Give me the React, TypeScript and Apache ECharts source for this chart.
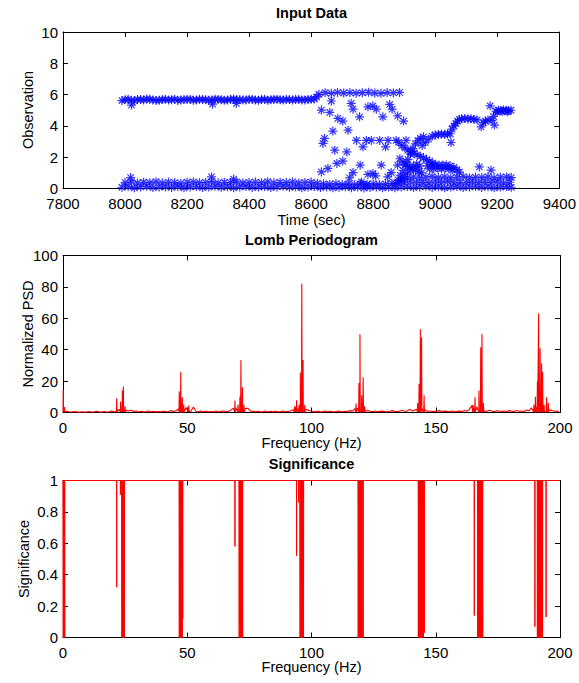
import React, { useEffect, useRef } from "react";
import * as echarts from "echarts";

const FONT = '"Liberation Sans", Arial, Helvetica, sans-serif';

// ---------- Input Data (time in sec, observation) ----------
const upperBandA: [number, number][] = [
  [7990,5.62],[8010,5.70],[8030,5.60],[8050,5.68],[8070,5.72],[8090,5.66],[8110,5.64],[8130,5.70],
  [8150,5.67],[8170,5.63],[8190,5.69],[8210,5.71],[8230,5.66],[8250,5.68],[8270,5.64],[8290,5.70],
  [8310,5.67],[8330,5.65],[8350,5.72],[8370,5.68],[8390,5.66],[8410,5.69],[8430,5.64],[8450,5.70],
  [8470,5.67],[8490,5.71],[8510,5.65],[8530,5.68],[8550,5.70],[8570,5.66],[8590,5.69],[8610,5.72],
];
const upperBandB: [number, number][] = [
  [8000,5.67],[8020,5.64],[8040,5.69],[8060,5.66],[8080,5.70],[8100,5.63],[8120,5.68],[8140,5.66],
  [8160,5.71],[8180,5.65],[8200,5.68],[8220,5.64],[8240,5.70],[8260,5.67],[8280,5.66],[8300,5.69],
  [8320,5.64],[8340,5.70],[8360,5.67],[8380,5.65],[8400,5.71],[8420,5.66],[8440,5.68],[8460,5.64],
  [8480,5.69],[8500,5.67],[8520,5.70],[8540,5.65],[8560,5.68],[8580,5.66],[8600,5.70],[8618,5.85],
];
const upperOutliers: [number, number][] = [[8021,5.33],[8282,5.39],[8359,5.44]];
const topRow: [number, number][] = [
  [8625,6.02],[8645,6.12],[8665,6.08],[8685,6.14],[8705,6.10],[8725,6.13],[8745,6.09],
  [8765,6.12],[8785,6.15],[8805,6.10],[8825,6.08],[8845,6.13],[8865,6.11],[8885,6.14],
];
const lowerBandA: [number, number][] = [
  [7990,0.08],[8010,0.12],[8030,0.05],[8050,0.10],[8070,0.14],[8090,0.06],[8110,0.09],[8130,0.11],
  [8150,0.07],[8170,0.13],[8190,0.05],[8210,0.10],[8230,0.12],[8250,0.06],[8270,0.09],[8290,0.14],
  [8310,0.08],[8330,0.11],[8350,0.05],[8370,0.10],[8390,0.13],[8410,0.07],[8430,0.09],[8450,0.12],
  [8470,0.06],[8490,0.10],[8510,0.14],[8530,0.08],[8550,0.11],[8570,0.05],[8590,0.09],[8610,0.12],
  [8630,0.06],[8650,0.10],[8670,0.04],[8690,0.08],[8710,0.11],[8730,0.05],[8750,0.09],[8770,0.03],
  [8790,0.07],[8810,0.10],[8830,0.05],[8850,0.08],[8870,0.04],[8890,0.09],[8910,0.12],[8930,0.06],
  [8950,0.10],[8970,0.14],[8990,0.07],[9010,0.11],[9030,0.05],[9050,0.09],[9070,0.13],[9090,0.06],
  [9110,0.10],[9130,0.12],[9150,0.07],[9170,0.11],[9190,0.05],[9210,0.09],[9230,0.12],[9245,0.08],
];
const lowerBandB: [number, number][] = [
  [8000,0.38],[8020,0.42],[8040,0.35],[8060,0.40],[8080,0.37],[8100,0.43],[8120,0.36],[8140,0.41],
  [8160,0.38],[8180,0.34],[8200,0.40],[8220,0.42],[8240,0.37],[8260,0.39],[8280,0.44],[8300,0.36],
  [8320,0.40],[8340,0.38],[8360,0.42],[8380,0.35],[8400,0.39],[8420,0.41],[8440,0.37],[8460,0.43],
  [8480,0.36],[8500,0.40],[8520,0.38],[8540,0.42],[8560,0.35],[8580,0.39],[8600,0.41],[8620,0.34],
  [8640,0.30],[8660,0.27],[8680,0.31],[8700,0.26],[8720,0.29],[8740,0.25],[8760,0.30],[8780,0.27],
  [8800,0.31],[8820,0.26],[8840,0.29],[8860,0.33],[8880,0.36],[8900,0.40],[8920,0.43],[8940,0.38],
  [8960,0.41],[8980,0.37],[9000,0.42],[9020,0.39],[9040,0.44],[9060,0.36],[9080,0.40],[9100,0.38],
  [9120,0.42],[9140,0.37],[9160,0.41],[9180,0.39],[9200,0.43],[9220,0.36],[9240,0.40],
];
const lowerBandC: [number, number][] = [
  [8890,0.62],[8910,0.70],[8930,0.75],[8950,0.68],[8970,0.73],[8990,0.77],[9010,0.70],[9030,0.74],
  [9050,0.68],[9070,0.72],[9090,0.76],[9110,0.69],[9130,0.73],[9150,0.71],[9170,0.75],[9190,0.68],
  [9210,0.72],[9230,0.74],[9245,0.70],
];
const lowerOutliers: [number, number][] = [[8018,0.70],[8279,0.74],[8350,0.60]];
const transitionPts: [number, number][] = [
  [8665,5.59],[8633,5.01],[8660,4.86],[8729,5.44],[8735,5.07],[8756,4.58],[8783,5.22],[8799,5.28],
  [8810,5.07],[8831,4.58],[8853,5.37],[8861,5.07],[8879,4.64],[8898,4.31],[8686,4.48],[8702,4.31],
  [8670,3.67],[8719,3.73],[8643,3.20],[8638,2.88],
  [8746,3.07],[8778,3.07],[8794,3.07],[8821,3.07],[8848,3.07],[8874,3.07],[8906,3.07],
  [8767,2.66],[8840,2.66],[8676,2.45],[8715,2.34],[8683,1.60],[8702,1.75],[8654,1.28],[8633,1.06],
  [8758,1.49],[8826,1.49],[8735,1.02],[8724,0.68],[8783,0.90],[8799,0.96],[8808,0.81],[8858,1.02],
  [8847,0.74],[8879,1.49],[8762,0.42],[8778,0.21],
];
const clusterPts: [number, number][] = [
  [8872,0.30],[8880,0.55],[8888,0.85],[8896,1.15],[8904,1.50],[8912,1.85],[8920,2.20],[8928,2.55],
  [8936,2.85],[8944,3.05],[8952,3.20],[8962,3.30],
  [8882,2.95],[8892,2.75],[8902,2.60],[8912,2.45],[8922,2.35],[8932,2.25],[8942,2.15],[8952,2.05],
  [8962,1.95],[8972,1.85],[8982,1.75],[8992,1.62],
  [8886,1.90],[8896,1.70],[8906,1.55],[8916,1.40],[8926,1.30],[8936,1.20],[8946,1.10],[8956,1.00],
  [8890,0.50],[8900,0.75],[8910,1.00],[8920,1.20],[8930,1.40],[8940,1.55],[8950,1.45],
  [8958,2.75],[8968,2.95],[8978,3.15],
];
const risingPts: [number, number][] = [
  [8990,3.35],[9000,3.42],[9010,3.45],[9020,3.47],[9030,3.45],[9040,3.48],[9048,3.50],[9051,2.94],
  [9054,3.80],[9060,4.00],[9066,4.15],[9072,4.30],[9078,4.42],
  [9085,4.45],[9095,4.48],[9105,4.44],[9115,4.46],[9125,4.42],[9135,4.38],
  [9148,3.94],[9155,4.20],[9162,4.30],[9170,4.38],[9183,4.35],[9191,4.05],[9177,5.28],[9188,4.60],
  [9196,4.95],[9204,5.00],[9212,4.98],[9220,5.02],[9228,5.00],[9236,4.97],[9244,5.00],
  [9200,4.88],[9216,4.92],[9232,4.90],
];
const midBandPts: [number, number][] = [
  [8975,1.45],[8988,1.50],[9000,1.52],[9012,1.50],[9024,1.48],[9036,1.50],[9048,1.45],[9060,1.35],
  [9070,1.20],[9078,1.05],
  [8982,1.25],[8995,1.28],[9008,1.30],[9020,1.27],[9032,1.30],[9044,1.25],[9056,1.20],
  [9142,1.38],[9180,1.17],
];

// ---------- Lomb periodogram ----------
// background PSD, one value per 1 Hz bin (centre = bin + 0.5 Hz)
const psdNoise: number[] = [
  3.0,0.8,0.5,0.3,0.6,0.4,0.2,0.5,0.3,0.4,
  0.6,0.3,0.5,0.8,0.4,0.3,0.6,0.3,0.5,1.0,
  0.6,1.2,2.0,2.5,1.6,1.4,1.0,1.5,0.7,1.0,
  0.5,0.8,0.4,0.6,1.0,0.5,0.7,0.4,0.6,0.5,
  0.8,0.5,0.6,1.3,0.7,1.1,2.2,3.0,3.5,3.2,
  2.0,1.0,3.5,0.8,0.6,1.0,0.5,0.7,0.5,0.6,
  0.5,0.9,0.4,0.7,1.0,0.6,0.7,1.5,2.8,3.0,
  4.0,3.0,3.2,2.8,2.5,0.9,0.7,0.5,0.8,0.4,
  0.6,0.9,0.5,0.8,0.4,0.7,0.5,0.6,0.9,0.5,
  0.7,1.0,1.8,3.5,2.5,4.0,3.0,2.2,1.5,1.0,
  0.8,0.5,0.7,0.4,0.6,0.9,0.5,0.8,0.6,0.5,
  1.0,0.7,0.5,0.8,0.6,1.2,0.9,2.5,3.0,3.5,
  3.2,2.5,1.5,0.8,0.6,1.0,0.5,0.7,0.9,0.6,
  0.5,0.8,1.2,0.7,0.6,0.9,1.3,0.8,1.0,2.0,
  1.0,1.5,2.0,3.0,2.5,2.0,0.8,1.0,0.6,0.7,
  0.8,1.2,0.6,0.9,0.7,0.5,1.0,0.8,0.6,0.9,
  0.7,1.3,0.8,2.0,4.5,3.0,3.5,2.5,2.0,1.0,
  0.8,1.4,0.9,0.6,1.1,0.8,0.7,1.0,0.6,1.2,
  0.9,0.7,1.3,0.8,1.0,0.6,1.6,1.1,3.0,4.5,
  3.5,4.0,3.0,3.5,2.5,1.2,1.5,0.8,1.0,0.7,
];
const psdPeaks: [number, number][] = [
  [0.1,14.5],[0.6,3.5],
  [21.6,9],[23.2,7],[23.9,14],[24.3,16.6],[25.0,4],
  [46.8,13.5],[47.4,26],[48.0,9.7],[48.6,5],[50.6,4.5],
  [69.2,7.6],[70.4,5],[71.2,10],[71.6,33.5],[72.2,16],[72.8,5],
  [93.2,4],[94.0,7.8],[95.0,5],[95.5,25.5],[96.1,82],[96.6,33.5],[97.3,5],
  [117.9,5.7],[119.1,18.8],[119.5,49.8],[120.2,11],[120.8,22.4],[121.4,4],
  [142.7,6],[143.3,18.3],[143.8,53],[144.3,48],[145.3,11],
  [165.0,5],[165.8,9.7],[167.4,14],[168.1,41.5],[168.6,50],[169.2,6],
  [189.5,5],[190.1,10],[190.9,19.8],[191.4,63],[192.0,41],[192.6,31.4],[193.0,26],[193.6,5],
  [194.6,9.7],[195.3,6],
];

// ---------- Significance (value 1 everywhere except these dips) ----------
const sigDips: [number, number][] = [
  [0.1,0],[0.3,0],[0.5,0],[0.7,0],
  [21.6,0.32],[23.1,0.91],
  [23.7,0],[23.9,0],[24.1,0],[24.3,0],[24.5,0],[24.7,0],
  [46.8,0],[47.0,0],[47.2,0],[47.4,0],[47.6,0],[47.8,0],[48.0,0],[48.2,0.12],
  [69.2,0.58],
  [70.9,0],[71.1,0.07],[71.3,0],[71.5,0],[71.7,0],[71.9,0],[72.1,0],[72.3,0],
  [94.0,0.52],[94.8,0.86],
  [95.4,0],[95.6,0],[95.8,0],[96.0,0],[96.2,0],[96.4,0],[96.6,0],[96.8,0],
  [118.8,0],[119.0,0],[119.2,0],[119.4,0],[119.6,0],[119.8,0],[120.0,0],[120.2,0],[120.4,0],[120.8,0],
  [143.0,0],[143.2,0],[143.4,0],[143.6,0],[143.8,0],[144.0,0],[144.2,0],[144.6,0],[144.8,0],[145.0,0],
  [145.4,0.03],
  [165.5,0.14],
  [166.9,0],[167.1,0],[167.3,0],[167.5,0],[167.7,0],[167.9,0],[168.1,0],[168.3,0],[168.5,0],[168.7,0],[168.9,0],
  [189.9,0.07],
  [190.9,0],[191.1,0],[191.3,0],[191.5,0],[191.7,0],[191.9,0],[192.1,0],[192.3,0],[192.5,0],[192.7,0],[193.0,0],
  [194.4,0.13],
];

const ASTERISK = "path://M0,-5L0,5M-5,0L5,0M-3.6,-3.6L3.6,3.6M-3.6,3.6L3.6,-3.6";

function axisPair(gridIndex: number, min: number, max: number, interval: number, isX: boolean) {
  const common = {
    type: "value" as const,
    gridIndex,
    min,
    max,
    interval,
    splitLine: { show: false },
    axisLine: { show: true, onZero: false, lineStyle: { color: "#000", width: 1 } },
    axisTick: { show: true, inside: true, length: 5, lineStyle: { color: "#000", width: 1 } },
  };
  return [
    {
      ...common,
      position: isX ? "bottom" : "left",
      axisLabel: {
        show: true,
        color: "#000",
        fontSize: 15,
        lineHeight: 13,
        fontFamily: FONT,
        margin: isX ? 8 : 5,
        showMinLabel: true,
        showMaxLabel: true,
        formatter: (v: number) => String(v),
      },
    },
    {
      ...common,
      position: isX ? "top" : "right",
      axisLabel: { show: false },
    },
  ];
}

function label(text: string, x: number, y: number, bold: boolean, rotate = false) {
  return {
    type: "text",
    x,
    y,
    rotation: rotate ? Math.PI / 2 : 0,
    style: {
      text,
      fill: "#000",
      fontSize: 14.5,
      fontWeight: bold ? "bold" : "normal",
      fontFamily: FONT,
      align: "center",
      verticalAlign: "middle",
    },
  };
}

export default function App() {
  const ref = useRef<HTMLDivElement>(null);
  useEffect(() => {
    if (!ref.current) return;
    const chart = echarts.init(ref.current, null, { renderer: "svg" });

    const scatterData = [
      ...upperBandA, ...upperBandB, ...upperOutliers, ...topRow,
      ...lowerBandA, ...lowerBandB, ...lowerBandC, ...lowerOutliers,
      ...transitionPts, ...clusterPts, ...risingPts, ...midBandPts,
    ];

    const psdLine: number[][] = [];
    psdNoise.forEach((v, i) => psdLine.push([i + 0.5, v]));
    psdPeaks.forEach(([f, v]) => {
      psdLine.push([f - 0.12, 0.4], [f, v], [f + 0.12, 0.4]);
    });
    psdLine.sort((a, b) => a[0] - b[0]);

    const sigLine: number[][] = [[0, 1]];
    sigDips.forEach(([f, v]) => {
      sigLine.push([f - 0.04, 1], [f, v], [f + 0.04, 1]);
    });
    sigLine.push([200, 1]);
    sigLine.sort((a, b) => a[0] - b[0]);

    const cx = 311.5;
    const option: any = {
      animation: false,
      backgroundColor: "#fff",
      grid: [
        { left: 63, top: 32, width: 497, height: 156.5 },
        { left: 63, top: 255.5, width: 497, height: 157 },
        { left: 63, top: 480.5, width: 497, height: 157 },
      ],
      xAxis: [
        ...axisPair(0, 7800, 9400, 200, true),
        ...axisPair(1, 0, 200, 50, true),
        ...axisPair(2, 0, 200, 50, true),
      ],
      yAxis: [
        ...axisPair(0, 0, 10, 2, false),
        ...axisPair(1, 0, 100, 20, false),
        ...axisPair(2, 0, 1, 0.2, false),
      ],
      series: [
        {
          type: "scatter",
          xAxisIndex: 0,
          yAxisIndex: 0,
          data: scatterData,
          symbol: ASTERISK,
          symbolSize: 9,
          itemStyle: { color: "rgba(0,0,0,0)", borderColor: "#0000ff", borderWidth: 1.2 },
          silent: true,
        },
        {
          type: "line",
          xAxisIndex: 2,
          yAxisIndex: 2,
          data: psdLine,
          showSymbol: false,
          symbol: "none",
          lineStyle: { color: "#ff0000", width: 1.1 },
          silent: true,
        },
        {
          type: "line",
          xAxisIndex: 4,
          yAxisIndex: 4,
          data: sigLine,
          showSymbol: false,
          symbol: "none",
          lineStyle: { color: "#ff0000", width: 1 },
          silent: true,
        },
      ],
      graphic: [
        label("Input Data", cx, 13, true),
        label("Time (sec)", cx, 220, false),
        label("Lomb Periodogram", cx, 239.5, true),
        label("Frequency (Hz)", cx, 443, false),
        label("Significance", cx, 464, true),
        label("Frequency (Hz)", cx, 667, false),
        label("Observation", 28, 110, false, true),
        label("Normalized PSD", 28, 334, false, true),
        label("Significance", 24, 559, false, true),
      ],
    };
    chart.setOption(option);
    return () => chart.dispose();
  }, []);
  return (
    <div
      ref={ref}
      style={{ position: "fixed", left: 0, top: 0, width: 579, height: 683, background: "#fff" }}
    />
  );
}
